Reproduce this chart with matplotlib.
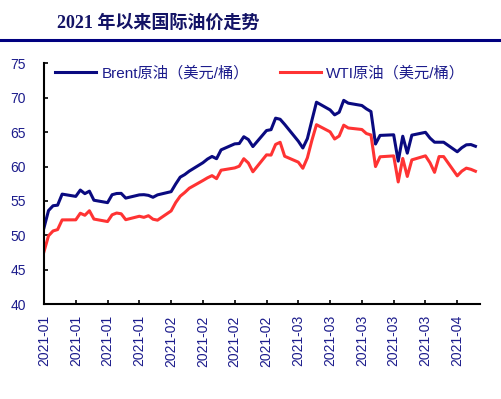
import matplotlib
matplotlib.use("Agg")
import matplotlib.pyplot as plt
import matplotlib.dates as mdates
import pandas as pd
from matplotlib.lines import Line2D

plt.rcParams["font.family"] = ["Liberation Sans", "Noto Sans CJK SC"]

# trading days, holidays carried forward
dates = pd.bdate_range("2021-01-04", "2021-04-09")

brent = [
    51.09, 53.60, 54.30, 54.38, 55.99,
    55.66, 56.58, 56.06, 56.42, 55.10,
    54.75, 55.90, 56.08, 56.10, 55.41,
    55.88, 55.91, 55.81, 55.53, 55.88,
    56.35, 57.46, 58.46, 58.84, 59.34,
    60.56, 61.09, 61.47, 61.14, 62.43,
    63.30, 63.35, 64.34, 63.93, 62.91,
    65.24, 65.37, 67.04, 66.88, 66.13,
    63.69, 62.70, 64.07, 66.74, 69.36,
    68.24, 67.52, 67.90, 69.63, 69.22,
    68.88, 68.39, 68.00, 63.28, 64.53,
    64.62, 60.79, 64.41, 61.95, 64.57,
    64.98, 64.14, 63.54, 63.54, 63.54,
    62.15, 62.74, 63.16, 63.20, 62.95,
]

wti = [
    47.62, 49.93, 50.63, 50.83, 52.24,
    52.25, 53.21, 52.91, 53.57, 52.36,
    52.00, 52.98, 53.24, 53.13, 52.27,
    52.77, 52.61, 52.85, 52.34, 52.20,
    53.55, 54.76, 55.69, 56.23, 56.85,
    57.97, 58.36, 58.68, 58.24, 59.47,
    59.80, 60.05, 61.14, 60.52, 59.24,
    61.70, 61.67, 63.22, 63.53, 61.50,
    60.64, 59.75, 61.28, 63.83, 66.09,
    65.05, 64.01, 64.44, 66.02, 65.61,
    65.39, 64.80, 64.60, 60.00, 61.42,
    61.55, 57.76, 61.18, 58.56, 60.97,
    61.56, 60.55, 59.16, 61.45, 61.45,
    58.65, 59.33, 59.77, 59.60, 59.32,
]

navy = "#0a0a80"
text_blue = "#1c1c8c"

fig = plt.figure(figsize=(5.02, 3.99), dpi=100)

# title and rule underneath
fig.text(0.114, 0.941, "2021 年以来国际油价走势", fontsize=13, fontweight="bold",
         color="#141466", va="center", ha="left",
         family=["Liberation Serif", "Noto Sans CJK SC"])
fig.add_artist(Line2D([0, 1], [0.8985, 0.8985], transform=fig.transFigure,
                      color="#000080", lw=2.2))

ax = fig.add_axes([0.0876, 0.238, 0.8685, 0.603])
ax.plot(dates, brent, color=navy, lw=2.2, label="Brent原油（美元/桶）")
ax.plot(dates, wti, color="#ff3333", lw=2.2, label="WTI原油（美元/桶）")

ax.set_ylim(40, 75)
ax.set_yticks(range(40, 76, 5))
ax.set_xlim(pd.Timestamp("2021-01-04"), pd.Timestamp("2021-04-10"))
ax.xaxis.set_major_locator(mdates.WeekdayLocator(byweekday=mdates.MO))
ax.xaxis.set_major_formatter(mdates.DateFormatter("%Y-%m"))

for side in ["top", "right"]:
    ax.spines[side].set_visible(False)
for side in ["left", "bottom"]:
    ax.spines[side].set_linewidth(1.5)

ax.tick_params(axis="y", direction="in", length=3, width=1.2, pad=13,
               labelsize=10, labelcolor=text_blue)
ax.tick_params(axis="x", direction="in", length=3, width=1.2, pad=8,
               labelsize=10, labelcolor=text_blue, labelrotation=90)

ax.legend(loc="upper left", ncol=2, frameon=False, fontsize=11,
          labelcolor=text_blue, handlelength=2.7, handletextpad=0.35,
          columnspacing=2.0, borderpad=0, borderaxespad=0,
          bbox_to_anchor=(0.025, 0.99))

plt.savefig("out.png", dpi=100)
